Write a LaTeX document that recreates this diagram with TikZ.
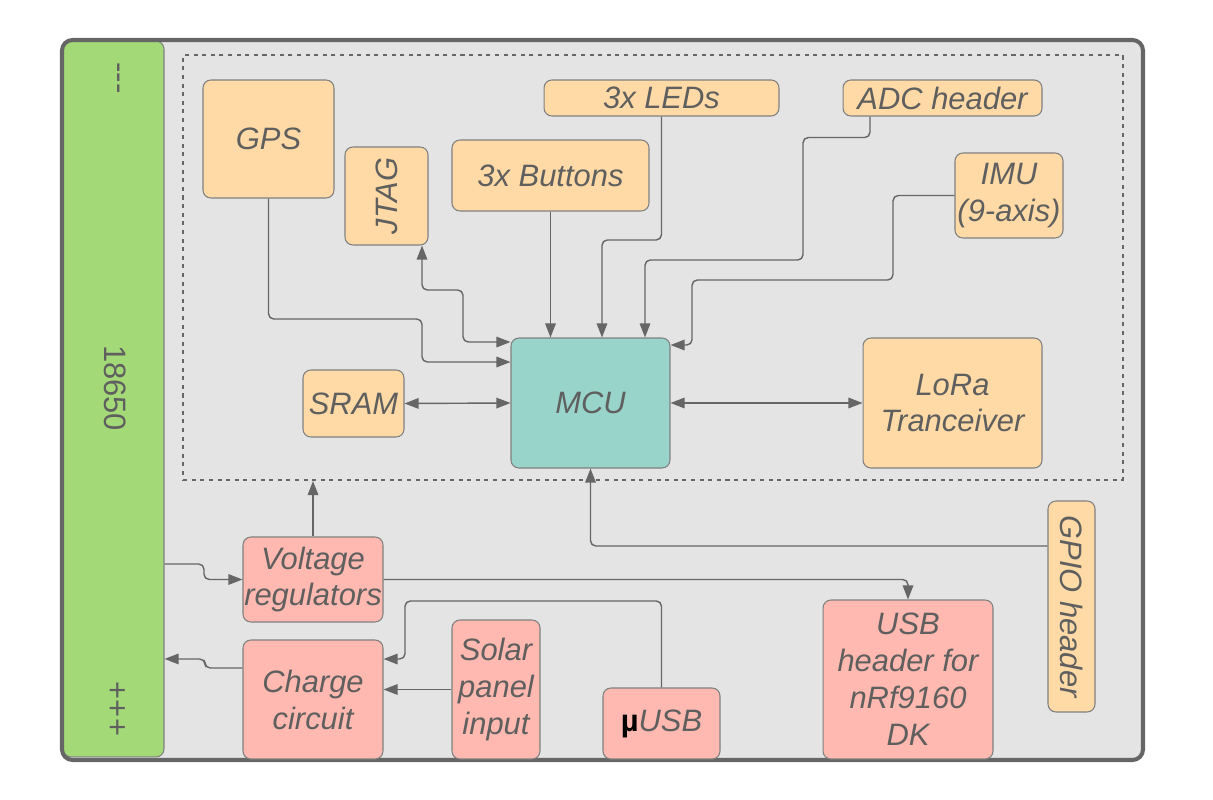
\documentclass[tikz,border=0pt]{standalone}
\usepackage{fontspec}
\setmainfont{Liberation Sans}
\usetikzlibrary{arrows.meta}
\definecolor{bg}{HTML}{E4E4E4}
\definecolor{frame}{HTML}{666666}
\definecolor{nb}{HTML}{808080}
\definecolor{txt}{HTML}{5F5F5F}
\definecolor{lc}{HTML}{666666}
\definecolor{peachc}{HTML}{FFDAA6}
\definecolor{tealc}{HTML}{99D4CA}
\definecolor{pinkc}{HTML}{FFB9B0}
\definecolor{greenc}{HTML}{A3D977}
\tikzset{
  box/.style={draw=nb, line width=0.6pt, rounded corners=4.5pt, inner sep=0pt,
    align=center, text=txt, font=\fontsize{17.6}{21}\selectfont\itshape},
  peach/.style={box, fill=peachc},
  teal/.style={box, fill=tealc},
  pink/.style={box, fill=pinkc},
  plain/.style={inner sep=0pt, text=txt, font=\fontsize{17.6}{21}\selectfont},
  conn/.style={draw=lc, line width=0.8pt, rounded corners=3pt,
    -{Triangle[length=8pt,width=6pt]}},
  conn2/.style={draw=lc, line width=0.8pt, rounded corners=3pt,
    {Triangle[length=8pt,width=6pt]}-{Triangle[length=8pt,width=6pt]}}
}
\begin{document}
\begin{tikzpicture}[x=0.02cm,y=-0.02cm]
\useasboundingbox (0,0) rectangle (1213,800);
% outer container
\fill[bg, rounded corners=6pt] (62,40) rectangle (1143,760);
% battery
\node[draw=nb, line width=0.6pt, fill=greenc, rounded corners=4.5pt, inner sep=0pt,
  minimum width=2.02cm, minimum height=14.32cm] (bat) at (113.5,399) {};
\node[plain] (minus) at (115,78) {\rotatebox{-90}{-{}-{}-}};
\node[plain] (cell) at (115,388) {\rotatebox{-90}{18650}};
\node[plain] (plus) at (116,709) {\rotatebox{-90}{+++}};
\draw[frame, line width=2.3pt, rounded corners=6pt] (62,40) rectangle (1143,760);
% dotted region
\node[draw=lc, line width=1.2pt, dash pattern=on 2.3pt off 2.6pt, inner sep=0pt,
  minimum width=18.8cm, minimum height=8.5cm] (inner) at (653,267.5) {};
% nodes
\node[peach, minimum width=2.62cm, minimum height=2.36cm] (gps) at (268.5,139) {GPS};
\node[peach, minimum width=1.66cm, minimum height=1.96cm] (jtag) at (386.5,196) {\rotatebox{90}{JTAG}};
\node[peach, minimum width=3.94cm, minimum height=1.42cm] (btn) at (550.5,175.5) {3x Buttons};
\node[peach, minimum width=4.70cm, minimum height=0.72cm] (leds) at (661.5,98) {3x LEDs};
\node[peach, minimum width=3.98cm, minimum height=0.72cm] (adc) at (942.5,98) {ADC header};
\node[peach, minimum width=2.16cm, minimum height=1.70cm] (imu) at (1009,195.5) {IMU\\(9-axis)};
\node[teal, minimum width=3.18cm, minimum height=2.60cm] (mcu) at (590.5,403) {MCU};
\node[peach, minimum width=2.02cm, minimum height=1.34cm] (sram) at (353.5,403.5) {SRAM};
\node[peach, minimum width=3.58cm, minimum height=2.60cm] (lora) at (952.5,403) {LoRa\\Tranceiver};
\node[pink, minimum width=2.80cm, minimum height=1.70cm] (vr) at (313,579.5) {Voltage\\regulators};
\node[pink, minimum width=2.80cm, minimum height=2.38cm] (chg) at (313,699.5) {Charge\\circuit};
\node[pink, minimum width=1.76cm, minimum height=2.78cm] (solar) at (496,689.5) {Solar\\panel\\input};
\node[pink, minimum width=2.34cm, minimum height=1.42cm] (musb) at (661.5,723.5) {{\upshape\bfseries\color{black}µ}USB};
\node[pink, minimum width=3.40cm, minimum height=3.18cm] (usb) at (908,679.5) {USB\\header for\\nRf9160\\DK};
\node[peach, minimum width=0.94cm, minimum height=4.22cm] (gpio) at (1071.5,606.5) {\rotatebox{-90}{GPIO header}};
% connectors
\draw[conn] (gps.south) |- (422,319) |- ([yshift=0.82cm]mcu.west);
\draw[conn2] ([xshift=0.71cm]jtag.south) |- (463,290) |- ([yshift=1.22cm]mcu.west);
\draw[conn] (btn.south) -- (btn.south |- mcu.north);
\draw[conn] (leds.south) |- (602,240) -- ([xshift=0.23cm]mcu.north);
\draw[conn] ([xshift=-1.45cm]adc.south) -- ++(0,21) -| (803,260) -| ([xshift=1.09cm]mcu.north);
\draw[conn] (imu.west) -| (893,280) -| (692,345) -- ([yshift=1.16cm]mcu.east);
\draw[conn2] (sram.east) -- (mcu.west);
\draw[conn2] (mcu.east) -- (lora.west);
\draw[conn] (vr.north) -- (vr.north |- inner.south);
\draw[conn] ([yshift=1.21cm]gpio.west) -| (mcu.south);
\draw[conn] ([yshift=-3.3cm]bat.east) -| (204,579.5) -- (vr.west);
\draw[conn] ([yshift=0.63cm]chg.west) -| (205,659) -- ([yshift=-5.2cm]bat.east);
\draw[conn] (vr.east) -| (usb.north);
\draw[conn] (musb.north) |- (405,601) |- ([yshift=0.81cm]chg.east);
\draw[conn] (solar.west) -- (chg.east |- solar.west);
\end{tikzpicture}
\end{document}
